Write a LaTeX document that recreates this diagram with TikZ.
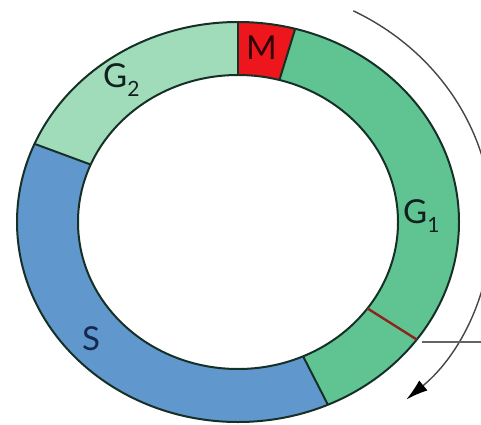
\documentclass[tikz,border=0pt]{standalone}
\usepackage{fontspec}
\setmainfont{Lato}
\usetikzlibrary{calc,arrows.meta}
\definecolor{gtwo}{RGB}{160,220,186}
\definecolor{gone}{RGB}{96,196,146}
\definecolor{mred}{RGB}{236,22,28}
\definecolor{sblue}{RGB}{96,151,204}
\definecolor{rim}{RGB}{22,48,40}
\definecolor{chk}{RGB}{140,36,30}
\definecolor{arrowgray}{RGB}{70,70,70}
\definecolor{hgray}{RGB}{100,100,100}
\definecolor{labeltxt}{RGB}{16,32,30}
\definecolor{stxt}{RGB}{20,40,80}
\tikzset{
  phaselabel/.style={inner sep=0pt, anchor=base west, text=labeltxt, font=\fontsize{33}{36}\selectfont},
  rimline/.style={draw=rim, line width=2pt},
  guide/.style={draw=arrowgray, line width=1.4pt}
}
\newcommand{\sector}[3]{%
  \fill[#3] ($(C)+(#1:221pt and 200pt)$) arc[start angle=#1, end angle=#2, x radius=221pt, y radius=200pt]
    -- ($(C)+(#2:160pt and 147pt)$) arc[start angle=#2, end angle=#1, x radius=160pt, y radius=147pt] -- cycle;}
\newcommand{\radial}[2]{%
  \draw[#2] ($(C)+(#1:221pt and 200pt)$) -- ($(C)+(#1:160pt and 147pt)$);}
\begin{document}
\begin{tikzpicture}
\clip (0pt,0pt) rectangle (481pt,424pt);
\fill[white] (0pt,0pt) rectangle (481pt,424pt);
\coordinate (C) at (238pt,202pt);
% sectors
\sector{75}{90}{mred}
\sector{90}{157}{gtwo}
\sector{157}{294}{sblue}
\sector{-66}{75}{gone}
% rims
\draw[rimline] (C) ellipse [x radius=221pt, y radius=200pt];
\draw[rimline] (C) ellipse [x radius=160pt, y radius=147pt];
\radial{90}{rimline}
\radial{75}{rimline}
\radial{157}{rimline}
\radial{-66}{rimline}
\radial{-36}{draw=chk, line width=2.4pt}
% guide arc with arrow
\coordinate (arcstart) at ($(C)+(63:254pt and 237pt)$);
\draw[guide, -{Latex[length=22pt,width=13pt,color=black]}] (arcstart) arc[start angle=63, end angle=-48.5, x radius=254pt, y radius=237pt];
% checkpoint line
\coordinate (hstart) at (422pt,82pt);
\coordinate (hend) at (482pt,82pt);
\draw[draw=hgray, line width=1.6pt] (hstart) -- (hend);
% labels
\node[phaselabel, text=black!80!mred] (m) at (246pt,364pt) {M};
\node[phaselabel] (g2) at (103pt,337pt) {G\raisebox{-0.28em}{\fontsize{21}{21}\selectfont 2}};
\node[phaselabel] (g1) at (403pt,201pt) {G\raisebox{-0.28em}{\fontsize{21}{21}\selectfont 1}};
\node[phaselabel, text=stxt] (s) at (82pt,74pt) {S};
\end{tikzpicture}
\end{document}
